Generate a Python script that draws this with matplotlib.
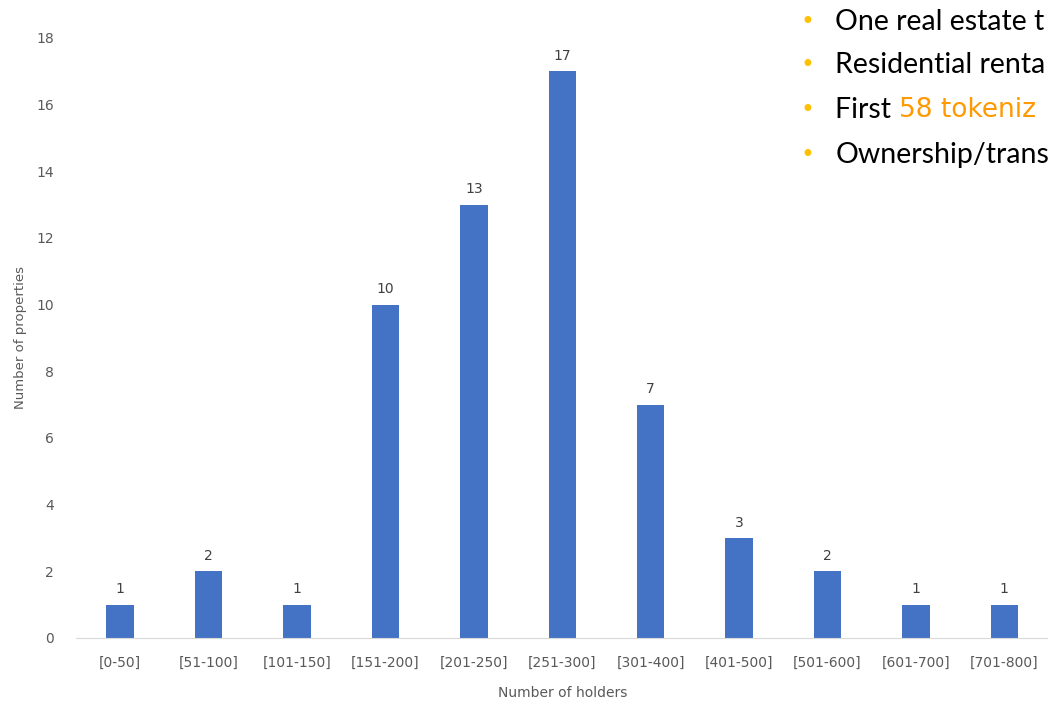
import matplotlib.pyplot as plt

categories = ['[0-50]', '[51-100]', '[101-150]', '[151-200]', '[201-250]', '[251-300]',
              '[301-400]', '[401-500]', '[501-600]', '[601-700]', '[701-800]']
counts = [1, 2, 1, 10, 13, 17, 7, 3, 2, 1, 1]

bullet_lines = ['One real estate t', 'Residential renta', None, 'Ownership/trans']

fig = plt.figure(figsize=(10.48, 7.03), dpi=100)
ax = fig.add_axes([0.0725, 0.0925, 0.928, 0.8535])

x = range(len(categories))
bars = ax.bar(x, counts, width=0.31, color='#4472C4')
for b, v in zip(bars, counts):
    ax.text(b.get_x() + b.get_width() / 2, v + 0.25, str(v), ha='center', va='bottom',
            fontsize=10, color='#404040', family='DejaVu Sans')

ax.set_xlim(-0.5, len(categories) - 0.5)
ax.set_ylim(0, 18)
ax.set_yticks(range(0, 19, 2))
ax.set_xticks(list(x))
ax.set_xticklabels(categories)
ax.tick_params(length=0, labelsize=10, labelcolor='#595959')
ax.tick_params(axis='x', pad=13)
ax.tick_params(axis='y', pad=16)
for s in ['top', 'right', 'left']:
    ax.spines[s].set_visible(False)
ax.spines['bottom'].set_color('#D9D9D9')

ax.set_xlabel('Number of holders', fontsize=10, color='#595959')
ax.xaxis.set_label_coords(0.5, -0.08)
ax.set_ylabel('Number of properties', fontsize=9.5, color='#595959')
ax.yaxis.set_label_coords(-0.05, 0.5)

# overlay bullet text (cut off at right edge)
ys = [0.969, 0.907, 0.843, 0.780]
for i, y in enumerate(ys):
    fig.text(0.764, y, '•', fontsize=17, color='#FFC000', va='center', family='DejaVu Sans')
    if bullet_lines[i] is not None:
        fig.text(0.797, y, bullet_lines[i], fontsize=20.5, color='black', va='center', family='Lato')
t = fig.text(0.797, ys[2], 'First ', fontsize=20.5, color='black', va='center', family='Lato')
fig.canvas.draw()
bb = t.get_window_extent()
fig.text(bb.x1 / fig.bbox.width, ys[2], '58 tokeniz', fontsize=19, color='#FF9900',
         va='center', family='DejaVu Sans')

fig.savefig('out.png', dpi=100)
